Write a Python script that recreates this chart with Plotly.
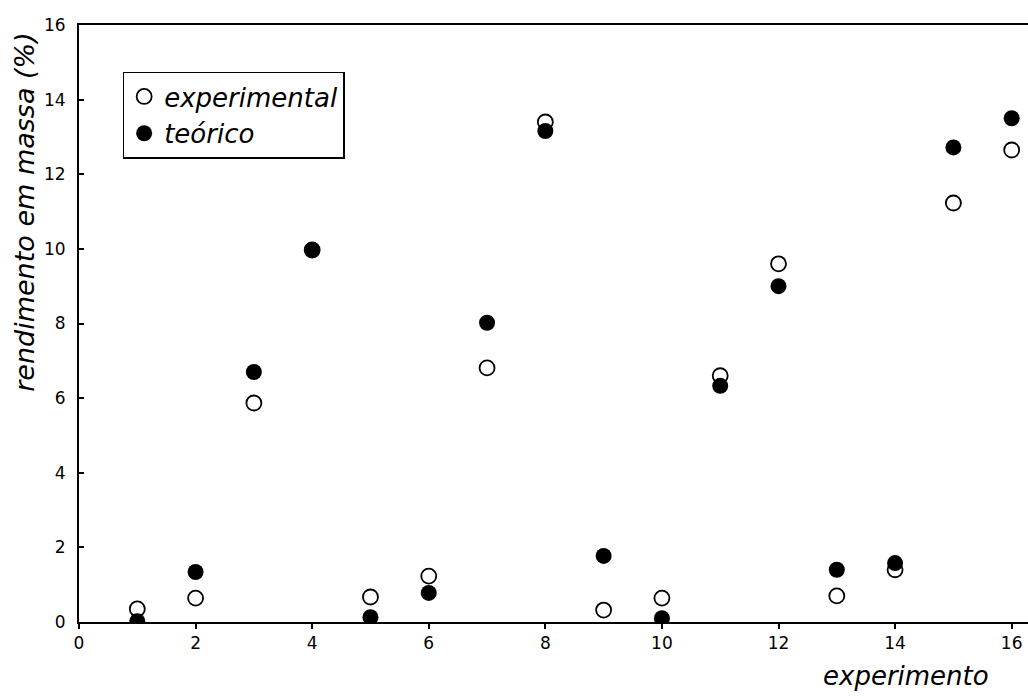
import plotly.graph_objects as go

experimento = [1, 2, 3, 4, 5, 6, 7, 8, 9, 10, 11, 12, 13, 14, 15, 16]
experimental = [0.35, 0.64, 5.87, 9.97, 0.67, 1.23, 6.81, 13.4, 0.32, 0.64, 6.6, 9.6, 0.7, 1.4, 11.23, 12.65]
teorico = [0.02, 1.34, 6.70, 9.97, 0.13, 0.78, 8.02, 13.16, 1.77, 0.1, 6.33, 9.0, 1.4, 1.58, 12.72, 13.5]
tick_vals = [0, 2, 4, 6, 8, 10, 12, 14, 16]

FONT = "DejaVu Sans, Arial, sans-serif"

fig = go.Figure()
fig.add_trace(go.Scatter(
    x=experimento, y=experimental, mode="markers", name="experimental",
    marker=dict(symbol="circle-open", size=15, color="black", line=dict(width=1.8, color="black")),
))
fig.add_trace(go.Scatter(
    x=experimento, y=teorico, mode="markers", name="teórico",
    marker=dict(symbol="circle", size=16, color="black", line=dict(width=0)),
))

fig.update_layout(
    width=1028, height=696,
    margin=dict(l=79, r=0, t=25, b=74),
    paper_bgcolor="white", plot_bgcolor="white",
    font=dict(family=FONT, color="black", size=17),
    showlegend=True,
    legend=dict(
        x=0.046, y=0.922, xanchor="left", yanchor="top",
        bordercolor="black", borderwidth=1.5, bgcolor="white",
        font=dict(family=FONT, size=26, style="italic", color="black"),
        itemwidth=30, tracegroupgap=0,
    ),
    xaxis=dict(
        range=[0, 16.28], tickvals=tick_vals, ticktext=[str(v) for v in tick_vals],
        showgrid=False, zeroline=False, showline=True, linecolor="black", linewidth=2,
        mirror=True, ticks="outside", ticklen=5, tickcolor="black", tickwidth=1.5,
        tickfont=dict(size=17, family=FONT),
    ),
    yaxis=dict(
        range=[0, 16], tickvals=tick_vals, ticktext=[str(v) for v in tick_vals],
        showgrid=False, zeroline=False, showline=True, linecolor="black", linewidth=2,
        ticks="inside", ticklen=5, tickcolor="black", tickwidth=1.5,
        tickfont=dict(size=17, family=FONT), ticklabelstandoff=8,
    ),
    annotations=[
        dict(text="rendimento em massa (%)", textangle=-90, xref="paper", yref="paper",
             x=-0.057, y=0.687, xanchor="center", yanchor="middle", showarrow=False,
             font=dict(family=FONT, size=27, style="italic", color="black")),
        dict(text="experimento", xref="paper", yref="paper",
             x=0.871, y=-0.09, xanchor="center", yanchor="middle", showarrow=False,
             font=dict(family=FONT, size=26, style="italic", color="black")),
    ],
)

fig.write_html("out.html")
